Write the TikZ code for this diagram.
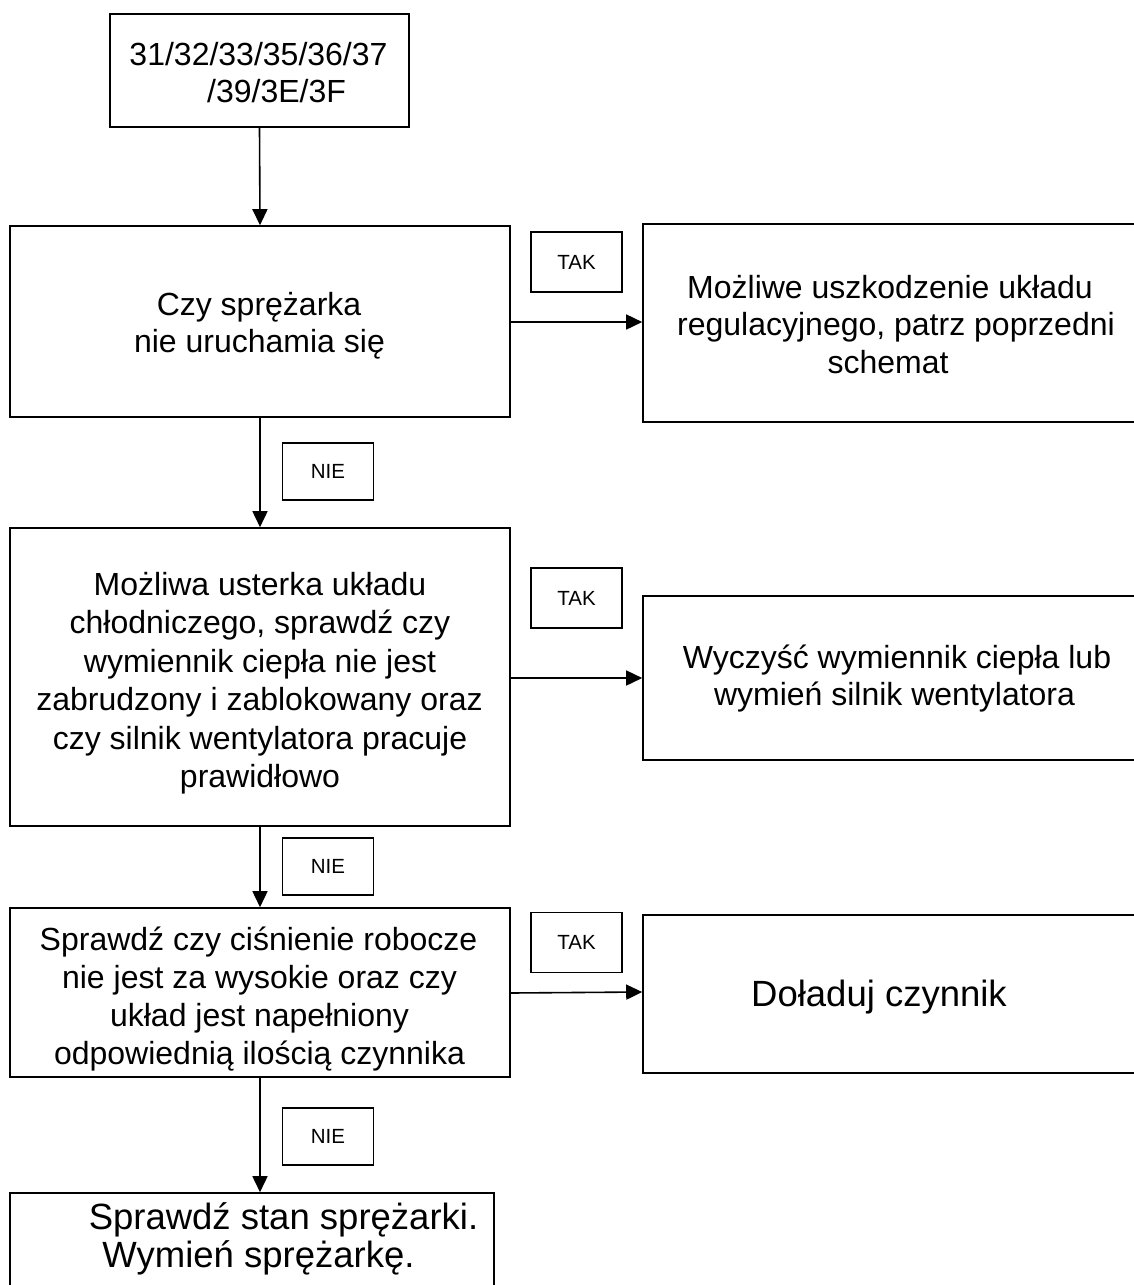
\documentclass[tikz,border=0pt]{standalone}
\usepackage{fontspec}
\setmainfont{Liberation Sans}
\usetikzlibrary{arrows.meta}
\begin{document}
\begin{tikzpicture}[x=1pt,y=-1pt,
  box/.style={draw,line width=1.6pt,inner sep=0pt},
  txt/.style={anchor=base,inner sep=0pt,font=\fontsize{32}{37}\selectfont},
  bigtxt/.style={anchor=base,inner sep=0pt,font=\fontsize{36.5}{42}\selectfont},
  lbl/.style={draw,line width=1.3pt,inner sep=0pt,minimum width=91pt,minimum height=60pt,font=\fontsize{20.5}{24}\selectfont},
  conn/.style={line width=1.6pt,-{Triangle[length=16pt,width=15pt]}}]
\useasboundingbox (0,0) rectangle (1134,1285);
\clip (0,0) rectangle (1134,1285);
% main column boxes
\node[box,minimum width=299pt,minimum height=113pt] (b0) at (259.5,70.5) {};
\node[box,minimum width=500pt,minimum height=191pt] (b1) at (260,321.5) {};
\node[box,minimum width=500pt,minimum height=298pt] (b2) at (260,677) {};
\node[box,minimum width=500pt,minimum height=169pt] (b3) at (260,992.5) {};
\node[box,minimum width=484pt,minimum height=100pt] (b4) at (252,1243) {};
% right column boxes
\node[box,minimum width=497pt,minimum height=198pt] (r1) at (891.5,323) {};
\node[box,minimum width=497pt,minimum height=164pt] (r2) at (891.5,678) {};
\node[box,minimum width=497pt,minimum height=158pt] (r3) at (891.5,994) {};
% texts
\node[txt] (t0a) at (258.5,65) {31/32/33/35/36/37};
\node[txt] (t0b) at (276.5,102) {/39/3E/3F};
\node[txt] (t1a) at (259,315.5) {Czy sprężarka};
\node[txt] (t1b) at (259.5,352) {nie uruchamia się};
\node[txt] (t2a) at (260,595) {Możliwa usterka układu};
\node[txt] (t2b) at (260,633.5) {chłodniczego, sprawdź czy};
\node[txt] (t2c) at (260,672) {wymiennik ciepła nie jest};
\node[txt] (t2d) at (259.5,710.5) {zabrudzony i zablokowany oraz};
\node[txt] (t2e) at (260,749) {czy silnik wentylatora pracuje};
\node[txt] (t2f) at (260,787.5) {prawidłowo};
\node[txt] (t3a) at (258.5,950) {Sprawdź czy ciśnienie robocze};
\node[txt] (t3b) at (259.5,988) {nie jest za wysokie oraz czy};
\node[txt] (t3c) at (259.5,1026) {układ jest napełniony};
\node[txt] (t3d) at (259.5,1064) {odpowiednią ilością czynnika};
\node[bigtxt] (t4a) at (283.5,1229) {Sprawdź stan sprężarki.};
\node[bigtxt] (t4b) at (258.5,1267) {Wymień sprężarkę.};
\node[txt] (u1a) at (890,298) {Możliwe uszkodzenie układu};
\node[txt] (u1b) at (896,335.5) {regulacyjnego, patrz poprzedni};
\node[txt] (u1c) at (888,373) {schemat};
\node[txt] (u2a) at (897,668) {Wyczyść wymiennik ciepła lub};
\node[txt] (u2b) at (894.5,705.5) {wymień silnik wentylatora};
\node[bigtxt] (u3a) at (879,1006) {Doładuj czynnik};
% labels
\node[lbl] (tak1) at (576.5,262) {TAK};
\node[lbl] (tak2) at (576.5,598) {TAK};
\node[lbl] (tak3) at (576.5,942.5) {TAK};
\node[lbl,minimum height=57pt] (nie1) at (328,471.5) {NIE};
\node[lbl,minimum height=57pt] (nie2) at (328,866.5) {NIE};
\node[lbl,minimum height=57pt] (nie3) at (328,1136.5) {NIE};
% connectors
\draw[conn] (b0.south) -- (b1.north);
\draw[conn] (b1.south) -- (b2.north);
\draw[conn] (b2.south) -- (b3.north);
\draw[conn] (b3.south) -- (b3.south |- b4.north);
\draw[conn] (b1.east |- 0,322) -- (r1.west |- 0,322);
\draw[conn] (b2.east |- 0,678) -- (r2.west |- 0,678);
\draw[conn] (b3.east |- 0,993) -- (r3.west |- 0,992);
\end{tikzpicture}
\end{document}
